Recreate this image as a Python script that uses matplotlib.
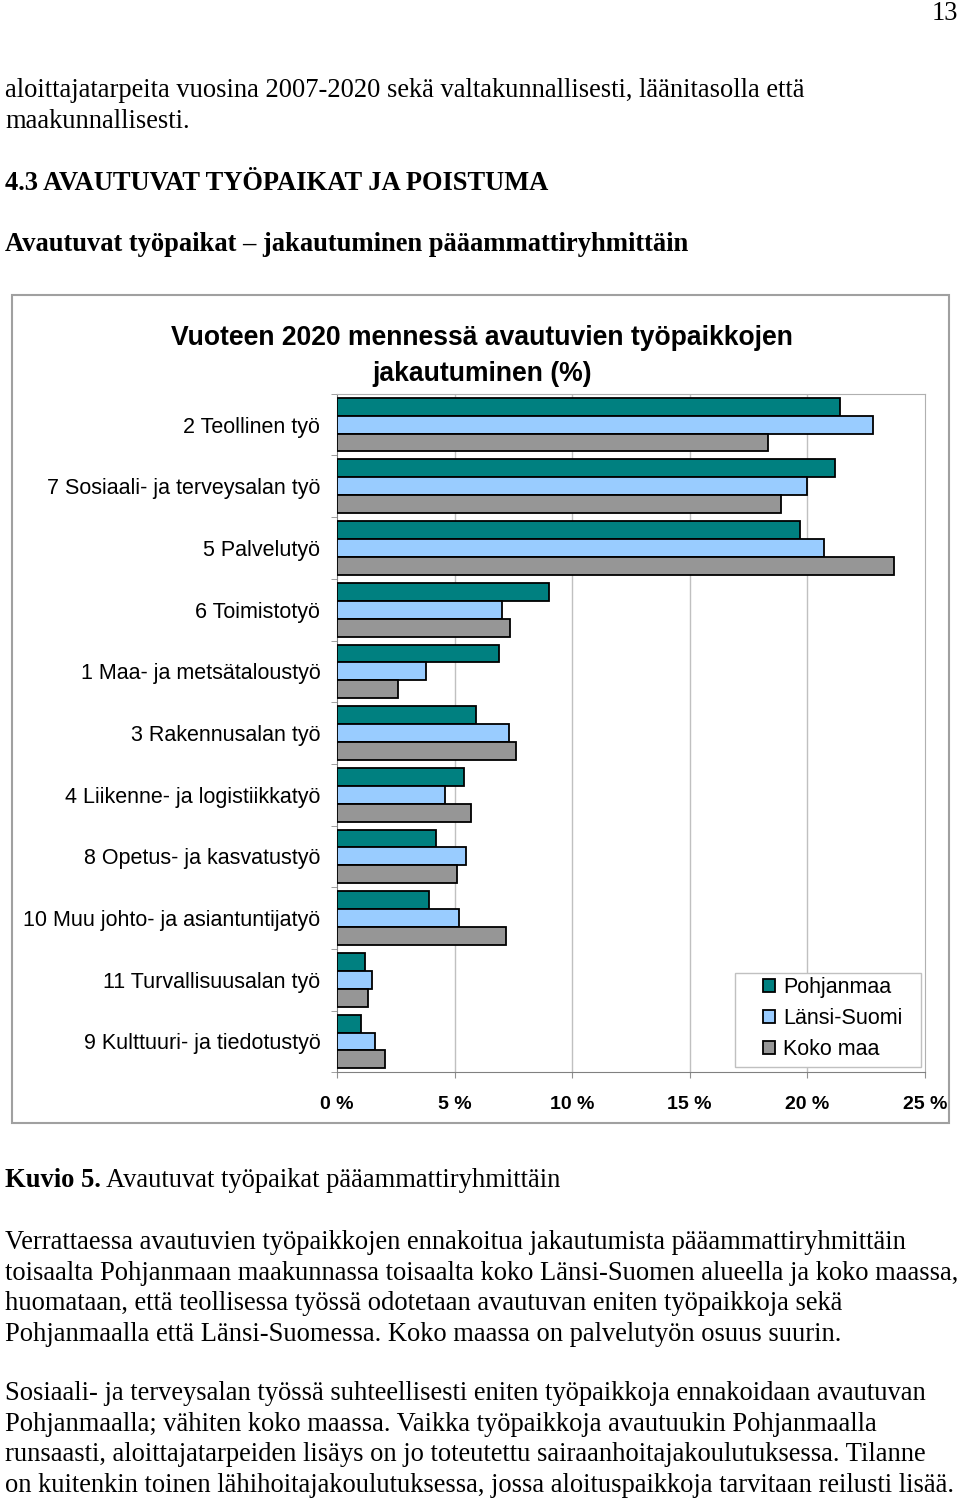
import matplotlib
matplotlib.use('Agg')
import numpy as np
import matplotlib.pyplot as plt
from matplotlib.patches import Rectangle

W, H = 960, 1499

categories = ['2 Teollinen työ', '7 Sosiaali- ja terveysalan työ', '5 Palvelutyö',
              '6 Toimistotyö', '1 Maa- ja metsätaloustyö', '3 Rakennusalan työ',
              '4 Liikenne- ja logistiikkatyö', '8 Opetus- ja kasvatustyö',
              '10 Muu johto- ja asiantuntijatyö', '11 Turvallisuusalan työ',
              '9 Kulttuuri- ja tiedotustyö']
pohjanmaa = [21.4, 21.2, 19.7, 9.0, 6.9, 5.9, 5.4, 4.2, 3.9, 1.2, 1.0]
lansi_suomi = [22.8, 20.0, 20.7, 7.0, 3.8, 7.3, 4.6, 5.5, 5.2, 1.5, 1.6]
koko_maa = [18.35, 18.9, 23.7, 7.35, 2.6, 7.6, 5.7, 5.1, 7.2, 1.3, 2.05]
series_names = ['Pohjanmaa', 'Länsi-Suomi', 'Koko maa']
series_colors = ['#008080', '#99ccff', '#969696']
xticks = [0, 5, 10, 15, 20, 25]
xtick_labels = ['0 %', '5 %', '10 %', '15 %', '20 %', '25 %']

title_lines = ['Vuoteen 2020 mennessä avautuvien työpaikkojen', 'jakautuminen (%)']

page_lines = [
    (97, 'aloittajatarpeita vuosina 2007-2020 sekä valtakunnallisesti, läänitasolla että', 'normal'),
    (128, 'maakunnallisesti.', 'normal'),
    (190, '4.3 AVAUTUVAT TYÖPAIKAT JA POISTUMA', 'bold'),
    (251, 'Avautuvat työpaikat – jakautuminen pääammattiryhmittäin', 'bold'),
    (1249, 'Verrattaessa avautuvien työpaikkojen ennakoitua jakautumista pääammattiryhmittäin', 'normal'),
    (1280, 'toisaalta Pohjanmaan maakunnassa toisaalta koko Länsi-Suomen alueella ja koko maassa,', 'normal'),
    (1310, 'huomataan, että teollisessa työssä odotetaan avautuvan eniten työpaikkoja sekä', 'normal'),
    (1341, 'Pohjanmaalla että Länsi-Suomessa. Koko maassa on palvelutyön osuus suurin.', 'normal'),
    (1400, 'Sosiaali- ja terveysalan työssä suhteellisesti eniten työpaikkoja ennakoidaan avautuvan', 'normal'),
    (1431, 'Pohjanmaalla; vähiten koko maassa. Vaikka työpaikkoja avautuukin Pohjanmaalla', 'normal'),
    (1461, 'runsaasti, aloittajatarpeiden lisäys on jo toteutettu sairaanhoitajakoulutuksessa. Tilanne', 'normal'),
    (1492, 'on kuitenkin toinen lähihoitajakoulutuksessa, jossa aloituspaikkoja tarvitaan reilusti lisää.', 'normal'),
]

SERIF = ['Liberation Serif', 'DejaVu Serif']
SANS = ['Liberation Sans', 'DejaVu Sans']
BODY = 19.1


def fy(y):
    # pixel row from top -> figure fraction
    return 1 - y / H


fig = plt.figure(figsize=(W / 100, H / 100), dpi=100)
fig.patch.set_facecolor('white')

# page text
fig.text(958 / W, fy(20), '13', family=SERIF, fontsize=BODY, ha='right', va='baseline')
for y, txt, weight in page_lines:
    fig.text(5 / W, fy(y), txt, family=SERIF, fontsize=BODY, fontweight=weight, va='baseline')
t = fig.text(5 / W, fy(1187), 'Kuvio 5.', family=SERIF, fontsize=BODY, fontweight='bold', va='baseline')
fig.canvas.draw()
bb = t.get_window_extent()
fig.text((bb.x1 + 5) / W, fy(1187), 'Avautuvat työpaikat pääammattiryhmittäin',
         family=SERIF, fontsize=BODY, va='baseline')

# chart frame
fig.patches.append(Rectangle((11.7 / W, fy(1123.3)), (949.3 - 11.7) / W, (1123.3 - 295) / H,
                             transform=fig.transFigure, fill=False, edgecolor='#a0a0a0', lw=1.5))
for yb, line in zip([345, 381], title_lines):
    fig.text(482 / W, fy(yb), line, family=SANS, fontsize=19.1, fontweight='bold',
             ha='center', va='baseline')

left, right, top, bottom = 337, 924.7, 393.8, 1072.3
ax = fig.add_axes([left / W, fy(bottom), (right - left) / W, (bottom - top) / H])

y = np.arange(len(categories))
h = 0.29
for k, (vals, name, col) in enumerate(zip([pohjanmaa, lansi_suomi, koko_maa], series_names, series_colors)):
    ax.barh(y + (k - 1) * h, vals, height=h, color=col, edgecolor='black', lw=1.3,
            label=name, zorder=3)

ax.set_xlim(0, 25)
ax.set_ylim(len(categories) - 0.5, -0.5)
ax.set_xticks(xticks)
ax.set_xticklabels(xtick_labels, family=SANS, fontsize=14, fontweight='bold')
ax.set_yticks(y)
ax.set_yticklabels(categories, family=SANS, fontsize=15.5)
ax.set_yticks(np.arange(len(categories) + 1) - 0.5, minor=True)
ax.tick_params(axis='y', which='major', length=0, pad=12)
ax.tick_params(axis='y', which='minor', length=4.5, color='#909090')
ax.tick_params(axis='x', which='major', length=4, color='#909090', pad=13)
for xv in xticks[1:-1]:
    ax.axvline(xv, color='#c0c0c0', lw=1, zorder=1)
ax.spines['left'].set_color('#808080')
ax.spines['bottom'].set_color('#808080')
ax.spines['top'].set_color('#b0b0b0')
ax.spines['right'].set_color('#b0b0b0')

# legend box drawn separately so its padding can match
lx0, lx1, ly0, ly1 = 735, 921, 972.7, 1067.3
ax.add_patch(Rectangle(((lx0 - left) / (right - left), (bottom - ly1) / (bottom - top)),
                       (lx1 - lx0) / (right - left), (ly1 - ly0) / (bottom - top),
                       transform=ax.transAxes, facecolor='white', edgecolor='#c0c0c0',
                       lw=1, zorder=4.5))
leg = ax.legend(loc='center left',
                bbox_to_anchor=((763 - left) / (right - left), (bottom - 1018.5) / (bottom - top)),
                borderaxespad=0, borderpad=0, frameon=False,
                prop={'family': SANS, 'size': 15.5}, handlelength=0.55, handleheight=0.55,
                handletextpad=0.38, labelspacing=0.45)
leg.set_zorder(5)

fig.savefig('out.png', dpi=100, facecolor='white')
